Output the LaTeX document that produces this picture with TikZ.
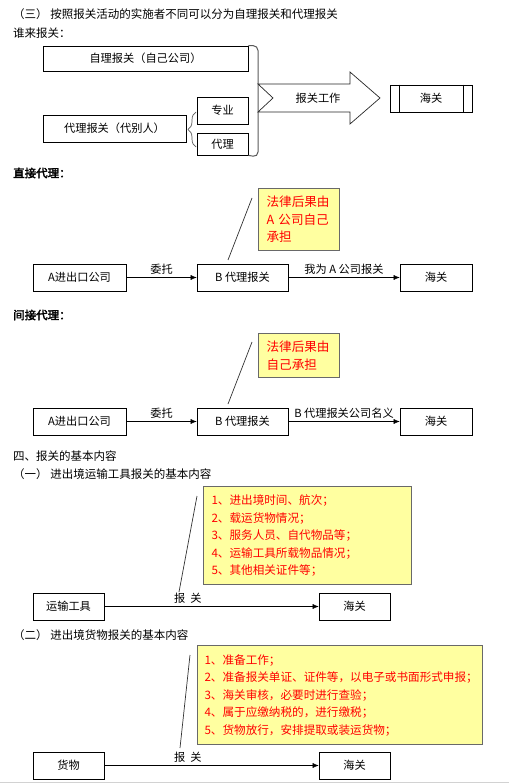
\documentclass[tikz,border=0pt]{standalone}
\usepackage{fontspec}
\setmainfont{Noto Sans CJK SC}[AutoFakeBold=2.5]
\usetikzlibrary{arrows.meta,calc,decorations.pathreplacing}
\definecolor{notefill}{RGB}{255,255,160}
\definecolor{noteline}{RGB}{105,105,105}

\begin{document}
\begin{tikzpicture}[x=1pt,y=-1pt,>={Latex[length=6pt,width=5pt]},
  box/.style={draw,line width=0.7pt,inner sep=0pt,minimum height=27pt,font=\fontsize{11.2}{13}\selectfont},
  note/.style={draw=noteline,line width=1.1pt,fill=notefill,text=red,anchor=north west,align=left,inner xsep=8pt,inner ysep=0pt,font=\fontsize{11.6}{17.5}\selectfont},
  head/.style={anchor=west,inner sep=0pt,font=\fontsize{11.5}{13}\selectfont},
  lbl/.style={above,font=\fontsize{11.2}{13}\selectfont},
  callout/.style={line width=0.7pt,black!80}]
  \useasboundingbox (0,0) rectangle (509,783);
  % part 1: who declares
  \node[head] (t1) at (13,14) {（三）\ 按照报关活动的实施者不同可以分为自理报关和代理报关};
  \node[head] (t2) at (13,33) {谁来报关：};
  \node[box,minimum width=205pt,minimum height=25pt] (zl) at (145.5,58.5) {自理报关（自己公司）};
  \node[box,minimum width=143pt] (dl) at (114.5,128.5) {代理报关（代别人）};
  \node[box,minimum width=51pt] (zy) at (222.5,110.5) {专业};
  \node[box,minimum width=51pt,minimum height=22pt] (dd) at (222.5,144) {代理};
  \draw[gray!70!black,line width=0.7pt,decorate,decoration={brace,amplitude=8pt}] (196,147) -- (196,112);
  \draw[gray!70!black,line width=1pt,rounded corners=5pt] (zl.north east) -- (258,45.5) -- (258,157) -- (dd.south east);
  % big arrow
  \draw[gray!30!black,line width=0.7pt] (258,84) -- (350,84) -- (350,72) -- (380,98) -- (350,124) -- (350,112) -- (258,112) -- (273,98) -- cycle;
  \node[font=\fontsize{11.2}{13}\selectfont] (bg) at (318,98) {报关工作};
  \node[box,minimum width=82pt] (hg0) at (431,98.5) {海关};
  \draw[line width=0.7pt] ($(hg0.north west)+(10,0)$) -- ($(hg0.south west)+(10,0)$);
  \draw[line width=0.7pt] ($(hg0.north east)+(-9,0)$) -- ($(hg0.south east)+(-9,0)$);
  % part 2: direct agency
  \node[head,font=\fontsize{11.5}{13}\selectfont\bfseries] (t3) at (13,173) {直接代理：};
  \node[note,text width=65pt,minimum height=62pt,font=\fontsize{12.6}{17.5}\selectfont] (n1) at (258,188) {法律后果由\\A 公司自己\\承担};
  \coordinate (c1a) at (252,198);
  \coordinate (c1b) at (228,260);
  \draw[callout] (c1a) -- (c1b);
  \node[box,minimum width=93pt] (a1) at (79.5,277.5) {A进出口公司};
  \node[box,minimum width=91pt] (b1) at (242.5,277.5) {B 代理报关};
  \node[box,minimum width=72pt] (h1) at (436,277.5) {海关};
  \draw[->] (a1) -- node[lbl] (l1) {委托} (b1);
  \draw[->] (b1) -- node[lbl] (l2) {我为 A 公司报关} (h1);
  % part 3: indirect agency
  \node[head,font=\fontsize{11.5}{13}\selectfont\bfseries] (t4) at (13,315) {间接代理：};
  \node[note,text width=65pt,minimum height=44pt,font=\fontsize{12.6}{17.5}\selectfont] (n2) at (258,333) {法律后果由\\自己承担};
  \coordinate (c2a) at (252,342);
  \coordinate (c2b) at (228,404);
  \draw[callout] (c2a) -- (c2b);
  \node[box,minimum width=93pt] (a2) at (79.5,421.5) {A进出口公司};
  \node[box,minimum width=91pt] (b2) at (242.5,421.5) {B 代理报关};
  \node[box,minimum width=72pt] (h2) at (436,421.5) {海关};
  \draw[->] (a2) -- node[lbl] (l3) {委托} (b2);
  \draw[->] (b2) -- node[lbl] (l4) {B 代理报关公司名义} (h2);
  % part 4: transport
  \node[head] (t5) at (13,456) {四、报关的基本内容};
  \node[head] (t6) at (13,474) {（一）\ 进出境运输工具报关的基本内容};
  \node[note,text width=192pt,minimum height=98pt] (n3) at (203,486) {1、进出境时间、航次；\\2、载运货物情况；\\3、服务人员、自代物品等；\\4、运输工具所载物品情况；\\5、其他相关证件等；};
  \coordinate (c3a) at (197,496);
  \coordinate (c3b) at (179,592);
  \draw[callout] (c3a) -- (c3b);
  \node[box,minimum width=71pt] (ys) at (68.5,606.5) {运输工具};
  \node[box,minimum width=71pt] (h3) at (354.5,606.5) {海关};
  \draw[->] (ys) -- node[lbl,pos=0.39] (l5) {报\ \ 关} (h3);
  % part 5: goods
  \node[head] (t7) at (13,635) {（二）\ 进出境货物报关的基本内容};
  \node[note,text width=271pt,minimum height=99pt,inner xsep=7pt] (n4) at (197,645) {1、准备工作；\\2、准备报关单证、证件等，以电子或书面形式申报；\\3、海关审核，必要时进行查验；\\4、属于应缴纳税的，进行缴税；\\5、货物放行，安排提取或装运货物；};
  \coordinate (c4a) at (190,655);
  \coordinate (c4b) at (180,748);
  \draw[callout] (c4a) -- (c4b);
  \node[box,minimum width=71pt] (hw) at (68.5,765.5) {货物};
  \node[box,minimum width=71pt] (h4) at (354.5,765.5) {海关};
  \draw[->] (hw) -- node[lbl,pos=0.39] (l6) {报\ \ 关} (h4);
  \draw[gray!35,line width=1pt] (0,782.5) -- (509,782.5);
\end{tikzpicture}
\end{document}
